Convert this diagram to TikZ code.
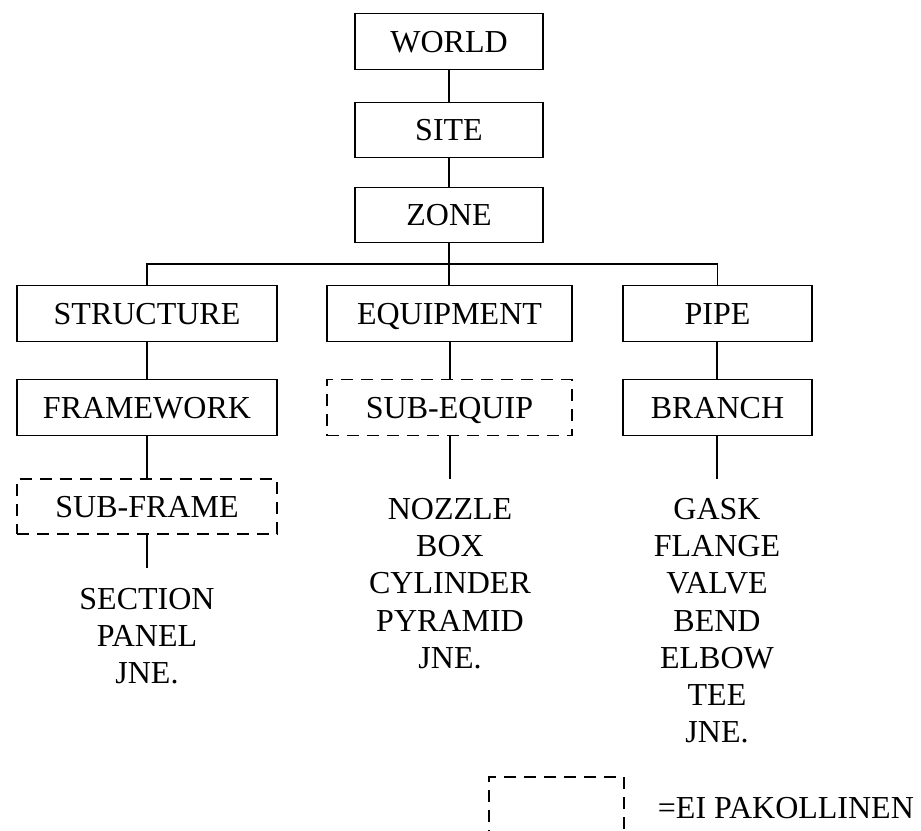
\documentclass[tikz,border=0pt]{standalone}
\usepackage{fontspec}
\setmainfont{Liberation Serif}
\begin{document}
\begin{tikzpicture}[x=1pt,y=-1pt,line width=1.8pt,
  every node/.style={font=\fontsize{32}{37.2}\selectfont,inner sep=0pt},
  box/.style={draw,rectangle,minimum height=56pt,text height=21pt,text depth=0pt},
  optbox/.style={box,dash pattern=on 12pt off 8pt},
  wtop/.style={minimum width=188pt},
  wa/.style={minimum width=260pt},
  wb/.style={minimum width=245pt},
  wc/.style={minimum width=189pt},
  leaflist/.style={align=center,anchor=north}]
\useasboundingbox (0,0) rectangle (921,830);
% top chain
\node[box,wtop] (world) at (449,41.5) {WORLD};
\node[box,wtop,minimum height=55pt] (site) at (449,130) {SITE};
\node[box,wtop,minimum height=55pt] (zone) at (449,215) {ZONE};
% row 1
\node[box,wa] (structure) at (147,313.5) {STRUCTURE};
\node[box,wb] (equipment) at (449.5,313.5) {EQUIPMENT};
\node[box,wc] (pipe) at (717.5,313.5) {PIPE};
% row 2
\node[box,wa] (framework) at (147,407.5) {FRAMEWORK};
\node[optbox,wb] (subequip) at (449.5,407.5) {SUB-EQUIP};
\node[box,wc] (branch) at (717.5,407.5) {BRANCH};
% row 3
\node[optbox,wa,minimum height=55pt] (subframe) at (147,506.5) {SUB-FRAME};
% leaf lists
\node[leaflist] (listA) at (147,587) {SECTION\\PANEL\\JNE.};
\node[leaflist] (listB) at (450,497.5) {NOZZLE\\BOX\\CYLINDER\\PYRAMID\\JNE.};
\node[leaflist] (listC) at (717,497.5) {GASK\\FLANGE\\VALVE\\BEND\\ELBOW\\TEE\\JNE.};
% legend
\node[optbox,minimum width=135pt,minimum height=57pt] (legendbox) at (556.5,805.5) {};
\node[anchor=west,text height=21pt,text depth=0pt] (legendtext) at (657,808) {=EI PAKOLLINEN};
% connector coordinates
\coordinate (busL) at (147,264);
\coordinate (endA) at (147,568);
\coordinate (endB) at (450,479);
\coordinate (endC) at (717,479);
% connectors
\draw (world.south) -- (site.north);
\draw (site.south) -- (zone.north);
\draw (zone.south) -- (zone.south |- busL);
\draw (structure.north) -- (busL) -| (pipe.north);
\draw (equipment.north -| zone.south) -- (zone.south |- busL);
\draw (structure.south) -- (framework.north);
\draw (framework.south) -- (subframe.north);
\draw (subframe.south) -- (endA);
\draw (equipment.south -| endB) -- (subequip.north -| endB);
\draw (subequip.south -| endB) -- (endB);
\draw (pipe.south -| endC) -- (branch.north -| endC);
\draw (branch.south -| endC) -- (endC);
\end{tikzpicture}
\end{document}
